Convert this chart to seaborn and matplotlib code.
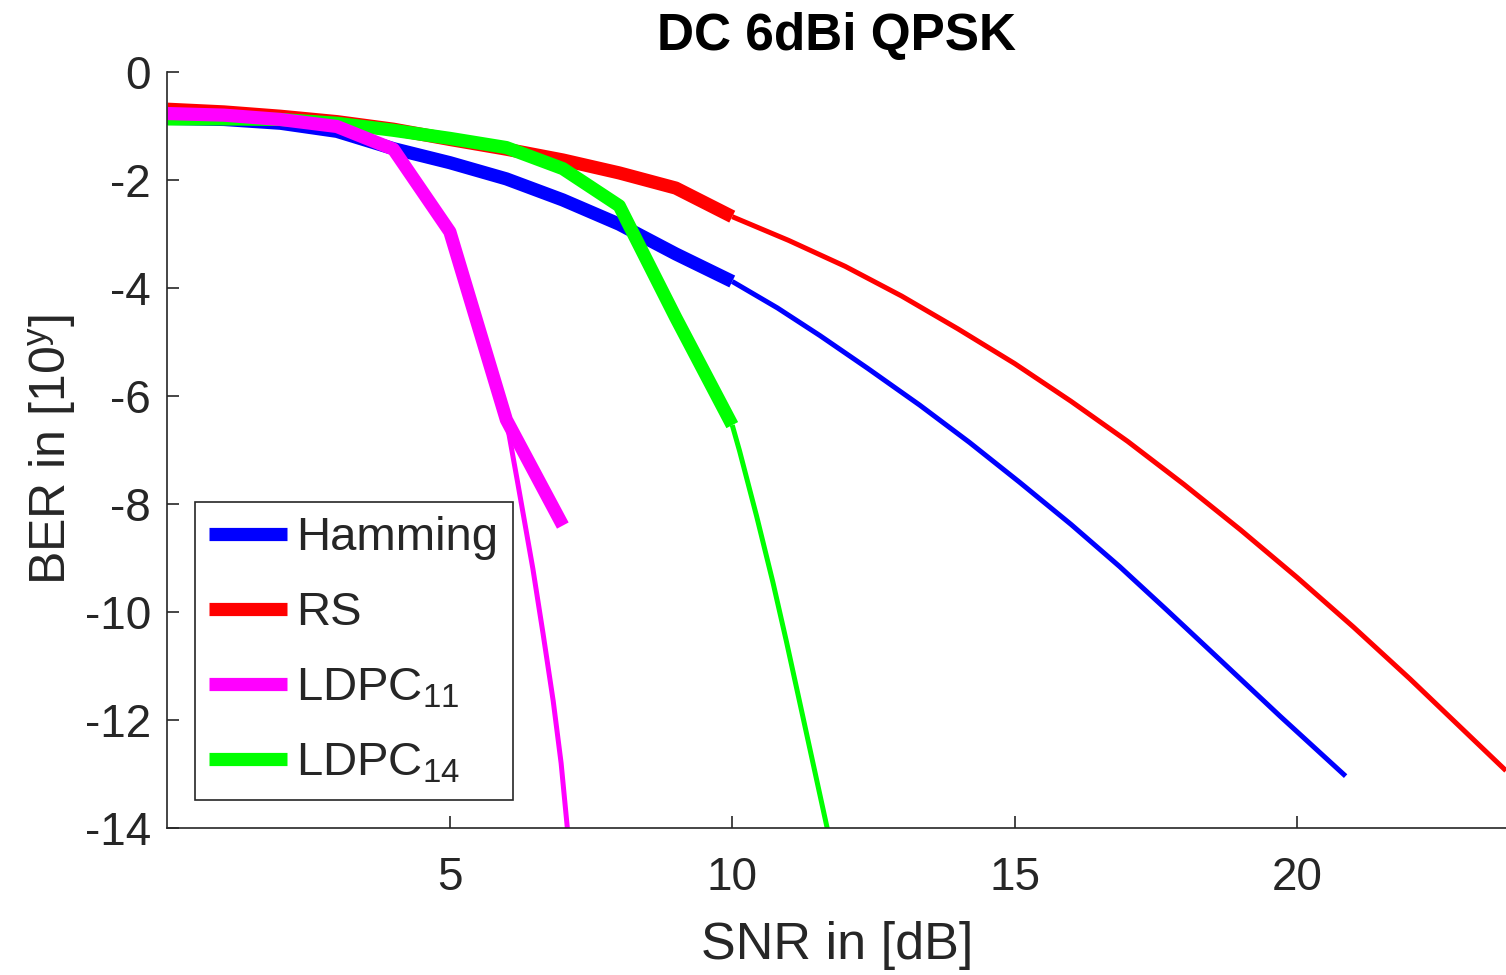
import matplotlib
matplotlib.use("Agg")
import matplotlib.pyplot as plt
import pandas as pd
import seaborn as sns

# measured points (thick lines), SNR in dB, BER as log10
snr_meas = [0, 1, 2, 3, 4, 5, 6, 7, 8, 9, 10]
ber_hamming = [-0.86, -0.88, -0.95, -1.10, -1.42, -1.68, -1.98, -2.37, -2.82, -3.37, -3.88]
ber_rs = [-0.69, -0.74, -0.82, -0.92, -1.06, -1.25, -1.43, -1.63, -1.87, -2.15, -2.68]
ber_ldpc14 = [-0.87, -0.87, -0.88, -0.95, -1.08, -1.23, -1.40, -1.79, -2.48, -4.55, -6.54]
snr_meas11 = [0, 1, 2, 3, 4, 5, 6, 7]
ber_ldpc11 = [-0.77, -0.80, -0.88, -1.01, -1.43, -2.96, -6.44, -8.40]

# extrapolated curves (thin lines)
snr_fit_hamming = [10, 10.8, 11.55, 12.4, 13.32, 14.2, 15.09, 16.0, 16.86, 17.7, 18.63, 19.7, 20.86]
ber_fit_hamming = [-3.88, -4.37, -4.88, -5.49, -6.17, -6.86, -7.60, -8.38, -9.16, -9.97, -10.88, -11.93, -13.04]
snr_fit_rs = [10, 11, 12, 13, 14, 15, 16, 17, 18, 19, 20, 21, 22, 23, 23.7]
ber_fit_rs = [-2.68, -3.12, -3.60, -4.15, -4.76, -5.40, -6.10, -6.84, -7.64, -8.48, -9.36, -10.28, -11.24, -12.24, -12.94]
snr_fit_ldpc11 = [6.0, 6.2, 6.47, 6.65, 6.83, 6.97, 7.08, 7.1]
ber_fit_ldpc11 = [-6.44, -7.6, -9.2, -10.4, -11.65, -12.8, -14.0, -14.25]
snr_fit_ldpc14 = [10, 10.13, 10.43, 10.72, 10.96, 11.19, 11.43, 11.67, 11.7]
ber_fit_ldpc14 = [-6.54, -7.02, -8.22, -9.45, -10.55, -11.65, -12.8, -13.95, -14.1]

names = ["Hamming", "RS", "LDPC$_{11}$", "LDPC$_{14}$"]
colors = {"Hamming": "#0000ff", "RS": "#ff0000", "LDPC$_{11}$": "#ff00ff", "LDPC$_{14}$": "#00ff00"}

meas = {
    "Hamming": (snr_meas, ber_hamming),
    "RS": (snr_meas, ber_rs),
    "LDPC$_{11}$": (snr_meas11, ber_ldpc11),
    "LDPC$_{14}$": (snr_meas, ber_ldpc14),
}
fits = {
    "Hamming": (snr_fit_hamming, ber_fit_hamming),
    "RS": (snr_fit_rs, ber_fit_rs),
    "LDPC$_{11}$": (snr_fit_ldpc11, ber_fit_ldpc11),
    "LDPC$_{14}$": (snr_fit_ldpc14, ber_fit_ldpc14),
}

sns.set_style("ticks")
plt.rcParams["font.family"] = ["Liberation Sans", "DejaVu Sans"]
plt.rcParams["mathtext.fontset"] = "custom"
plt.rcParams["mathtext.rm"] = "Liberation Sans"
plt.rcParams["mathtext.it"] = "Liberation Sans:italic"
plt.rcParams["axes.unicode_minus"] = False

fig = plt.figure(figsize=(15.06, 9.75), dpi=100)
ax = fig.add_axes([0.1112, 0.1508, 0.8888, 0.7754])

dark = "#262626"
handles = {}
# draw order: blue, red, green, magenta (magenta ends up on top)
for name in ["Hamming", "RS", "LDPC$_{14}$", "LDPC$_{11}$"]:
    fx, fy = fits[name]
    df_fit = pd.DataFrame({"snr": fx, "ber": fy})
    sns.lineplot(data=df_fit, x="snr", y="ber", color=colors[name], linewidth=3.6,
                 sort=False, estimator=None, ax=ax, solid_capstyle="butt")
    mx, my = meas[name]
    df_meas = pd.DataFrame({"snr": mx, "ber": my})
    sns.lineplot(data=df_meas, x="snr", y="ber", color=colors[name], linewidth=9.5,
                 sort=False, estimator=None, ax=ax, solid_capstyle="butt")
    handles[name] = ax.lines[-1]

ax.set_xlim(0, 23.7)
ax.set_ylim(-14, 0)
ax.set_xticks([5, 10, 15, 20])
ax.set_yticks(list(range(-14, 1, 2)))
sns.despine(ax=ax)
for side in ["left", "bottom"]:
    ax.spines[side].set_color(dark)
    ax.spines[side].set_linewidth(1.2)

ax.tick_params(axis="both", direction="in", length=8.6, width=1.2, colors=dark, labelsize=33)
ax.tick_params(axis="x", pad=20.5)
ax.tick_params(axis="y", pad=12)

ax.set_xlabel("SNR in [dB]", fontsize=37.5, color=dark, labelpad=15)
ax.set_ylabel("BER in [10$^{\\mathrm{y}}$]", fontsize=36, color=dark, labelpad=5)
ax.set_title("DC 6dBi QPSK", fontsize=37, fontweight="bold", pad=16, color="black")

leg = ax.legend([handles[n] for n in names], names, loc="lower left",
                bbox_to_anchor=(0.0205, 0.037), borderaxespad=0, frameon=True,
                fancybox=False, edgecolor=dark, framealpha=1, fontsize=34,
                handlelength=1.65, handletextpad=0.2, borderpad=0.3, labelspacing=0.66)
leg.get_frame().set_linewidth(1.2)

fig.savefig("out.png", dpi=100)
